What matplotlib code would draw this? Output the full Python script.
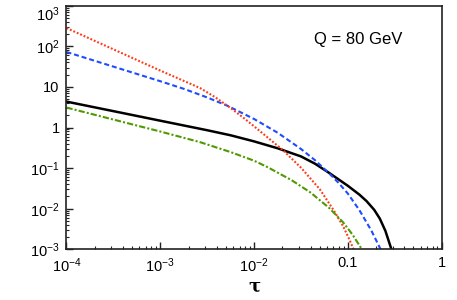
import matplotlib
matplotlib.use("Agg")
import matplotlib.pyplot as plt

plt.rcParams['font.family'] = ['Liberation Sans', 'DejaVu Sans']
plt.rcParams['mathtext.fontset'] = 'custom'
plt.rcParams['mathtext.rm'] = 'Liberation Sans'
plt.rcParams['mathtext.it'] = 'Liberation Sans:italic'
plt.rcParams['mathtext.bf'] = 'Liberation Sans:bold'

# curves (tau, value)
tau_red = [1e-4, 3.16e-4, 1.0e-3, 2.65e-3, 3.83e-3, 5.27e-3, 7.5e-3, 1.0e-2,
           2.03e-2, 3.16e-2, 5.01e-2, 7.08e-2, 8.91e-2, 0.105, 0.1175]
val_red = [282, 84.3, 25.2, 9.4, 5.61, 3.37, 1.82, 1.07,
           0.277, 0.1026, 0.0303, 0.00904, 0.00368, 0.00164, 0.00087]

tau_blue = [1e-4, 3.16e-4, 1.0e-3, 1.78e-3, 3.16e-3, 5.27e-3, 1.0e-2, 1.78e-2,
            3.16e-2, 4.47e-2, 6.3e-2, 7.94e-2, 0.1, 0.133, 0.178, 0.22, 0.24]
val_blue = [72.4, 31.6, 13.8, 8.97, 5.50, 3.38, 1.62, 0.745,
            0.296, 0.156, 0.0745, 0.0434, 0.0235, 0.00912, 0.00288, 0.00107, 0.00069]

tau_black = [1e-4, 3.16e-4, 1.0e-3, 3.16e-3, 5.62e-3, 1.0e-2, 1.78e-2, 3.16e-2,
             4.47e-2, 6.3e-2, 0.1, 0.133, 0.158, 0.191, 0.219, 0.251, 0.288, 0.302]
val_black = [4.34, 2.53, 1.47, 0.857, 0.643, 0.455, 0.308, 0.194,
             0.128, 0.0764, 0.0366, 0.0221, 0.0154, 0.00935, 0.00569, 0.00285,
             0.00108, 0.00075]

tau_green = [1e-4, 3.16e-4, 1.0e-3, 2.65e-3, 5.62e-3, 1.0e-2, 1.375e-2, 2.51e-2,
             3.98e-2, 6.3e-2, 8.91e-2, 0.112, 0.141, 0.151]
val_green = [3.1, 1.57, 0.796, 0.436, 0.248, 0.152, 0.107, 0.0504,
             0.0252, 0.0105, 0.00459, 0.0023, 0.001, 0.00078]

xticks = [1e-4, 1e-3, 1e-2, 0.1, 1]
xticklabels = ['$10^{-4}$', '$10^{-3}$', '$10^{-2}$', '0.1', '1']
yticks = [1e-3, 1e-2, 1e-1, 1, 10, 1e2, 1e3]
yticklabels = ['$10^{-3}$', '$10^{-2}$', '$10^{-1}$', '1', '10', '$10^{2}$', '$10^{3}$']

fig = plt.figure(figsize=(4.57, 3.0), dpi=100)
ax = fig.add_axes([0.1455, 0.169, 0.821, 0.812])

ax.plot(tau_black, val_black, color='black', lw=1.8, solid_joinstyle='round')
ax.plot(tau_blue, val_blue, color='#1f4cff', lw=1.5, linestyle=(0, (2.4, 1.4)))
ax.plot(tau_red, val_red, color='#ff3a1a', lw=1.5, linestyle=(0, (0.9, 0.9)))
ax.plot(tau_green, val_green, color='#4f9a00', lw=1.5, linestyle=(0, (3, 1, 1, 1)))

ax.set_xscale('log')
ax.set_yscale('log')
ax.set_xlim(1e-4, 1)
ax.set_ylim(1e-3, 1e3)
ax.set_xticks(xticks)
ax.set_xticklabels(xticklabels)
ax.set_yticks(yticks)
ax.set_yticklabels(yticklabels)
ax.tick_params(which='both', direction='in', top=False, right=False,
               labelsize=10.5, color='#222222')
ax.tick_params(which='major', length=5, width=1.0, pad=5)
ax.tick_params(which='minor', length=2.5, width=0.8)
ax.get_yticklabels()[-1].set_verticalalignment('top')
for s in ax.spines.values():
    s.set_linewidth(1.2)
    s.set_color('#222222')

ax.set_xlabel('τ', family='DejaVu Serif', fontsize=13, fontweight='bold', labelpad=2)
ax.text(0.66, 0.86, 'Q = 80 GeV', transform=ax.transAxes, fontsize=12,
        ha='left', va='center')

fig.savefig('out.png', dpi=100)
